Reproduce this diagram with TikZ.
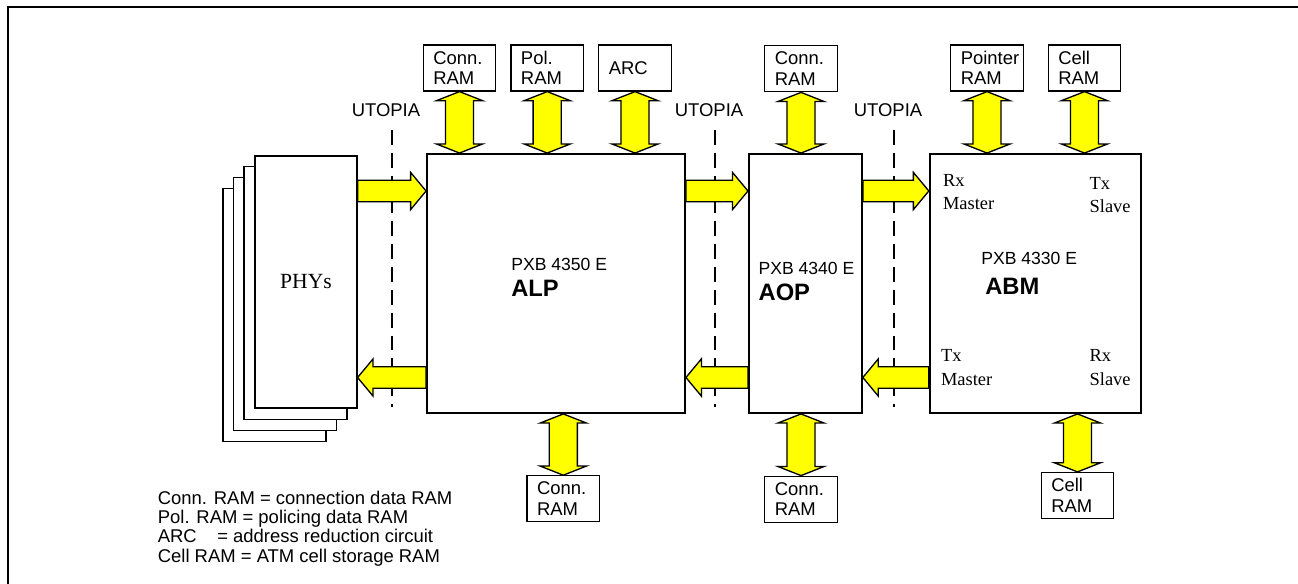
\documentclass[tikz,border=0pt]{standalone}
\usepackage{fontspec}
\setmainfont{Liberation Sans}
\newfontfamily\tmsfont{Liberation Serif}
\usepackage{tikz}
\usetikzlibrary{arrows.meta,positioning,calc,backgrounds}
\definecolor{clBus}{HTML}{FFFF00}
\tikzset{
  chip/.style={rectangle, draw, line width=1.1pt, minimum height=5.18cm, inner sep=0pt},
  ram/.style={rectangle, draw, line width=0.7pt, fill=white, minimum width=1.45cm,
              minimum height=0.92cm, text width=1.05cm, inner xsep=0.2cm, inner ysep=0pt,
              align=left, font=\fontsize{10.5}{11.7}\selectfont},
  phybox/.style={draw, line width=0.7pt, fill=white},
  chipcode/.style={anchor=base west, inner sep=0pt, font=\fontsize{10}{12}\selectfont},
  chipname/.style={anchor=base west, inner sep=0pt, font=\fontsize{13.5}{16}\selectfont\bfseries},
  portlabel/.style={anchor=base west, inner sep=0pt, align=left,
                    font=\tmsfont\fontsize{10.5}{13.2}\selectfont},
  legend/.style={anchor=base west, inner sep=0pt, align=left,
                 font=\fontsize{10.5}{11.05}\selectfont},
  iface/.style={dash pattern=on 8.5pt off 4.5pt, line width=0.7pt},
  ifacelabel/.style={inner sep=0pt, font=\fontsize{10.5}{12}\selectfont},
  % fat one-way bus arrow
  flow/.style={draw=black, fill=clBus, line width=0.75pt, line join=miter,
    to path={
      ($(\tikztostart)!6.1pt!90:(\tikztotarget)$)
      -- ($(\tikztotarget)!8.8pt!(\tikztostart)!6.1pt!90:(\tikztotarget)$)
      -- ($(\tikztotarget)!8.8pt!(\tikztostart)!10.6pt!90:(\tikztotarget)$)
      -- (\tikztotarget)
      -- ($(\tikztotarget)!8.8pt!(\tikztostart)!10.6pt!-90:(\tikztotarget)$)
      -- ($(\tikztotarget)!8.8pt!(\tikztostart)!6.1pt!-90:(\tikztotarget)$)
      -- ($(\tikztostart)!6.1pt!-90:(\tikztotarget)$) -- cycle}},
  % fat two-way memory link
  link/.style={draw=black, fill=clBus, line width=0.75pt, line join=miter,
    to path={
      (\tikztostart)
      -- ($(\tikztostart)!5.2pt!(\tikztotarget)!13.2pt!90:(\tikztotarget)$)
      -- ($(\tikztostart)!5.2pt!(\tikztotarget)!8pt!90:(\tikztotarget)$)
      -- ($(\tikztotarget)!5.2pt!(\tikztostart)!8pt!90:(\tikztotarget)$)
      -- ($(\tikztotarget)!5.2pt!(\tikztostart)!13.2pt!90:(\tikztotarget)$)
      -- (\tikztotarget)
      -- ($(\tikztotarget)!5.2pt!(\tikztostart)!13.2pt!-90:(\tikztotarget)$)
      -- ($(\tikztotarget)!5.2pt!(\tikztostart)!8pt!-90:(\tikztotarget)$)
      -- ($(\tikztostart)!5.2pt!(\tikztotarget)!8pt!-90:(\tikztotarget)$)
      -- ($(\tikztostart)!5.2pt!(\tikztotarget)!13.2pt!-90:(\tikztotarget)$)
      -- cycle}},
}

\begin{document}
\begin{tikzpicture}[x=0.02cm, y=-0.02cm]
  \useasboundingbox (0,0) rectangle (1298,584);
  \draw[line width=1.1pt] (8,590) -- (8,7) -- (1300,7);

  % devices
  \node[phybox, minimum width=2.04cm, minimum height=5.04cm, inner sep=0pt,
        font=\tmsfont\fontsize{12.3}{14}\selectfont] (phy) at (306,282) {PHYs};
  \begin{scope}[on background layer]
    \foreach \k in {3,2,1}
      \draw[phybox] ([shift={(-10.5*\k,11*\k)}]phy.south west)
        rectangle ([shift={(-10.5*\k,11*\k)}]phy.north east);
  \end{scope}
  \node[chip, minimum width=5.16cm] (alp) at (556,283.5) {};
  \node[chip, minimum width=2.26cm, right=1.24cm of alp] (aop) {};
  \node[chip, minimum width=4.22cm, right=1.32cm of aop] (abm) {};

  \node[chipcode] (alpcode) at (511,270.7) {PXB 4350 E};
  \node[chipname] (alpname) at (511,296.7) {ALP};
  \node[chipcode] (aopcode) at (758.3,275) {PXB 4340 E};
  \node[chipname] (aopname) at (758.3,300.7) {AOP};
  \node[chipcode] (abmcode) at (981,265) {PXB 4330 E};
  \node[chipname] (abmname) at (985,294.3) {ABM};

  \node[portlabel] (rxm) at (942.7,210) {Rx\\Master};
  \node[portlabel] (txs) at (1089.3,212.3) {Tx\\Slave};
  \node[portlabel] (txm) at (940.7,385) {Tx\\Master};
  \node[portlabel] (rxs) at (1089.3,385) {Rx\\Slave};

  % memories
  \node[ram] (conn1) at (459.5,68) {Conn.\\RAM};
  \node[ram] (pol) at (547.2,68) {Pol.\\RAM};
  \node[ram] (arc) at (635,68) {ARC};
  \node[ram] (conn2) at (801,68.8) {Conn.\\RAM};
  \node[ram] (ptr) at (987,68) {Pointer\\RAM};
  \node[ram] (cell1) at (1084.5,68) {Cell\\RAM};
  \node[ram] (conn3) at (563.3,498.8) {Conn.\\RAM};
  \node[ram] (conn4) at (801,499.2) {Conn.\\RAM};
  \node[ram] (cell2) at (1077.5,495.5) {Cell\\RAM};

  \foreach \r/\c in {conn1/alp, pol/alp, arc/alp, conn2/aop, ptr/abm, cell1/abm}
    \draw[link] (\r.south) to (\r.south |- \c.north);
  \foreach \r/\c in {conn3/alp, conn4/aop, cell2/abm}
    \draw[link] (\r.north |- \c.south) to (\r.north);

  % UTOPIA interfaces
  \foreach \x [count=\i] in {392,715,894} {
    \node[ifacelabel] (utopia\i) at (\x-6,110) {UTOPIA};
    \draw[iface] (\x,130) -- (\x,407);
  }

  % cell streams
  \coordinate (hi) at (0,191);
  \coordinate (lo) at (0,377.5);
  \draw[flow] (phy.east |- hi) to (alp.west |- hi);
  \draw[flow] (alp.east |- hi) to (aop.west |- hi);
  \draw[flow] (aop.east |- hi) to (abm.west |- hi);
  \draw[flow] (abm.west |- lo) to (aop.east |- lo);
  \draw[flow] (aop.west |- lo) to (alp.east |- lo);
  \draw[flow] (alp.west |- lo) to (phy.east |- lo);

  \node[legend] (key) at (157.5,562.3) {Conn. RAM = connection data RAM\\
    Pol. RAM = policing data RAM\\ARC~~~~= address reduction circuit\\
    Cell RAM = ATM cell storage RAM};
\end{tikzpicture}
\end{document}
